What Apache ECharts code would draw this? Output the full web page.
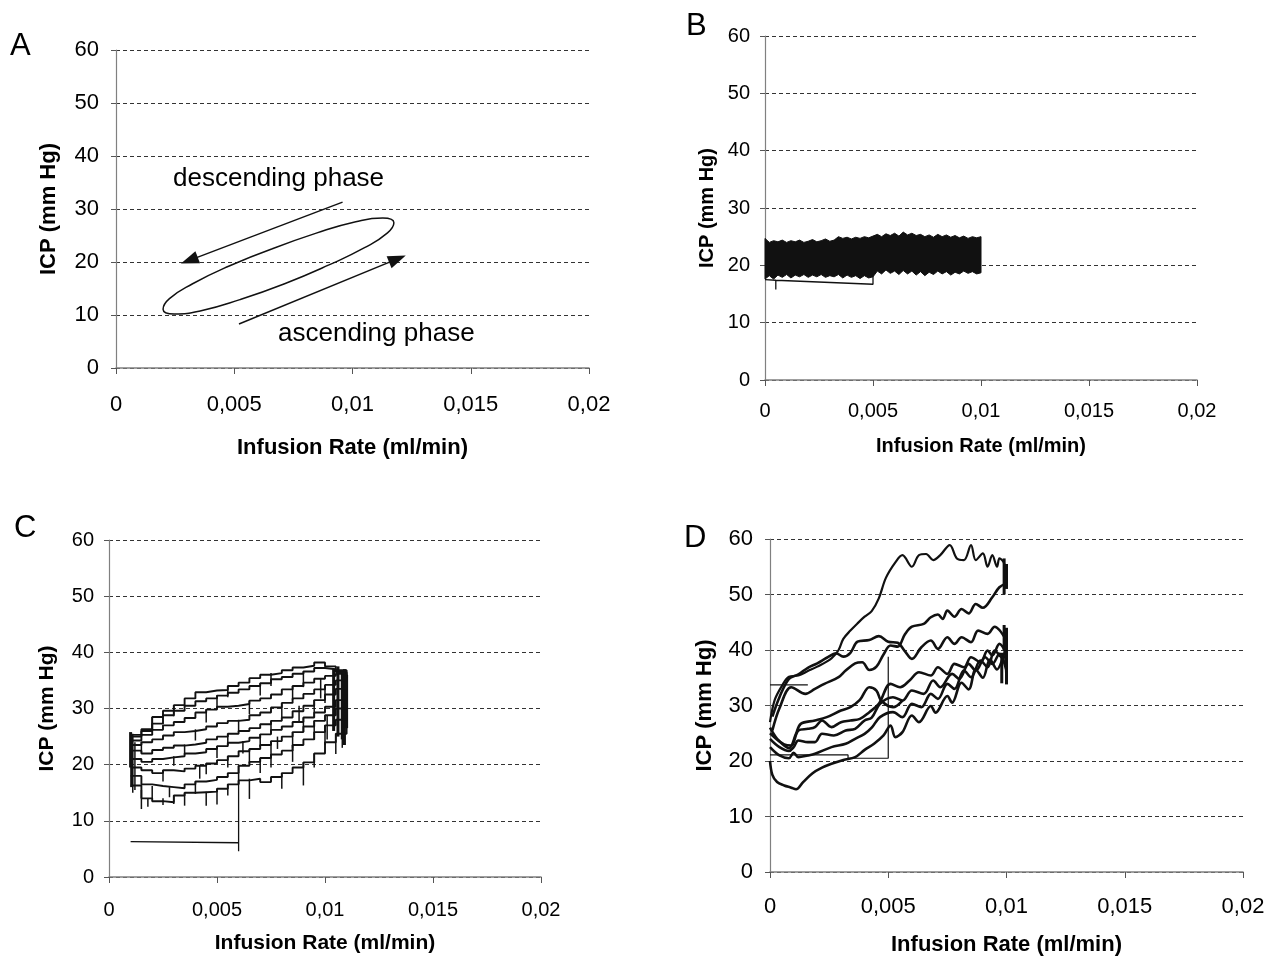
<!DOCTYPE html>
<html>
<head>
<meta charset="utf-8">
<script src="https://cdn.jsdelivr.net/npm/echarts/dist/echarts.min.js"></script>
<style>
  html, body { margin: 0; padding: 0; background: #fff; }
  #chart-container { width: 1277px; height: 961px; }
</style>
</head>
<body>
<div id="chart-container"></div>
<script>
// tick labels (comma decimals as in the original figure)
var xTickLabels = ["0", "0,005", "0,01", "0,015", "0,02"];
var yTickLabels = ["0", "10", "20", "30", "40", "50", "60"];

// ---- panel A: schematic hysteresis loop ----
var aLoop = [
  [0.00661, 22.5], [0.00476, 19.2], [0.00324, 15.9], [0.00226, 13.1], [0.00199, 11.1],
  [0.00246, 10.2], [0.0036, 10.8], [0.00524, 12.9], [0.00713, 15.9], [0.00898, 19.4],
  [0.01051, 22.7], [0.01148, 25.5], [0.01175, 27.4], [0.01128, 28.3], [0.01014, 27.6],
  [0.0085, 25.5], [0.00661, 22.5]
];
var aArrowDown = [[0.00958, 31.3], [0.0031, 20.3]];
var aArrowUp = [[0.0052, 8.3], [0.0119, 20.6]];

// ---- panel B: dense ICP trace, upper and lower envelope ----
var bTop = [
  [0, 24.7], [0.0002, 24.0], [0.0004, 24.3], [0.0006, 24.1], [0.0008, 24.4], [0.001, 24.0],
  [0.0012, 24.3], [0.0014, 24.1], [0.0016, 24.4], [0.0018, 24.0], [0.002, 24.2], [0.0022, 24.5],
  [0.0024, 24.1], [0.0026, 24.3], [0.0028, 24.6], [0.003, 24.2], [0.0032, 24.4], [0.0034, 25.0],
  [0.0036, 24.7], [0.0038, 24.9], [0.004, 24.6], [0.0042, 24.9], [0.0044, 24.7], [0.0046, 25.0],
  [0.0048, 24.8], [0.005, 25.1], [0.0052, 25.4], [0.0054, 25.0], [0.0056, 25.5], [0.0058, 25.2],
  [0.006, 25.6], [0.0062, 25.1], [0.0064, 25.8], [0.0066, 25.3], [0.0068, 25.6], [0.007, 25.2],
  [0.0072, 25.4], [0.0074, 25.0], [0.0076, 25.3], [0.0078, 24.9], [0.008, 25.4], [0.0082, 25.0],
  [0.0084, 25.3], [0.0086, 24.9], [0.0088, 25.2], [0.009, 24.8], [0.0092, 25.1], [0.0094, 24.7],
  [0.0096, 25.0], [0.0098, 24.8], [0.01, 25.0]
];
var bBottom = [
  [0, 17.6], [0.0002, 18.2], [0.0004, 17.6], [0.0006, 18.3], [0.0008, 17.9], [0.001, 18.4],
  [0.0012, 17.8], [0.0014, 18.3], [0.0016, 18.0], [0.0018, 18.4], [0.002, 17.9], [0.0022, 18.3],
  [0.0024, 18.0], [0.0026, 18.4], [0.0028, 17.9], [0.003, 18.2], [0.0032, 18.0], [0.0034, 18.4],
  [0.0036, 17.8], [0.0038, 18.3], [0.004, 17.9], [0.0042, 18.2], [0.0044, 17.7], [0.0046, 18.2],
  [0.0048, 17.8], [0.005, 18.0], [0.0052, 19.0], [0.0054, 18.5], [0.0056, 19.2], [0.0058, 18.6],
  [0.006, 19.0], [0.0062, 18.4], [0.0064, 19.1], [0.0066, 18.5], [0.0068, 19.0], [0.007, 18.3],
  [0.0072, 18.9], [0.0074, 18.2], [0.0076, 18.8], [0.0078, 18.4], [0.008, 19.0], [0.0082, 18.5],
  [0.0084, 18.9], [0.0086, 18.3], [0.0088, 18.8], [0.009, 18.5], [0.0092, 19.0], [0.0094, 18.6],
  [0.0096, 18.9], [0.0098, 18.5], [0.01, 18.7]
];
var bStart = [[0, 17.5], [0.0005, 17.4], [0.0005, 15.8], [0.0005, 17.4], [0.005, 16.7], [0.005, 18.4]];

// ---- panel C: stepped loops (y values at the infusion steps) ----
var cX = [0.001, 0.0015, 0.002, 0.0025, 0.003, 0.0035, 0.004, 0.0045, 0.005, 0.0055, 0.006,
  0.0065, 0.007, 0.0075, 0.008, 0.0085, 0.009, 0.0095, 0.01, 0.0105, 0.011];
var cLoops = [
  [16.3, 14.0, 13.5, 13.3, 14.5, 15.0, 15.1, 15.2, 15.7, 16.5, 17.2, 17.5, 16.9, 17.8, 18.5, 19.5, 20.4, 22.0, 24.0, 25.5, 26.9],
  [18.0, 16.5, 16.2, 16.0, 15.8, 16.5, 17.0, 17.3, 17.8, 18.5, 19.8, 20.5, 21.2, 21.8, 22.5, 23.5, 24.5, 25.8, 27.0, 28.0, 29.0],
  [19.5, 19.0, 18.5, 19.0, 18.8, 19.3, 19.8, 20.2, 20.8, 21.5, 22.4, 22.8, 23.5, 24.2, 25.0, 25.8, 26.8, 27.8, 28.8, 30.0, 31.0],
  [21.0, 20.5, 21.0, 21.3, 21.5, 22.0, 22.2, 22.8, 23.3, 23.9, 24.2, 24.8, 25.4, 26.2, 26.8, 27.6, 28.4, 29.3, 30.3, 31.5, 32.5],
  [22.5, 22.0, 22.6, 23.0, 23.4, 23.6, 23.9, 24.5, 25.0, 25.5, 26.0, 26.5, 27.2, 27.8, 28.4, 29.5, 30.5, 31.5, 32.5, 33.5, 34.0],
  [23.5, 24.0, 24.5, 25.2, 25.8, 26.0, 26.3, 26.8, 27.4, 27.8, 28.0, 28.8, 29.3, 30.2, 31.0, 31.8, 32.6, 33.4, 34.2, 35.0, 35.5],
  [24.3, 25.3, 26.2, 27.0, 27.6, 28.3, 29.3, 29.8, 30.3, 30.5, 30.8, 31.4, 31.8, 32.5, 33.4, 34.0, 34.6, 35.3, 35.8, 36.2, 36.0],
  [25.0, 26.0, 27.3, 28.8, 29.6, 30.5, 31.3, 31.8, 32.3, 32.8, 33.4, 34.0, 34.5, 35.2, 35.6, 36.2, 36.6, 37.2, 37.0, 36.5, 35.5],
  [25.3, 26.3, 28.5, 29.6, 30.6, 31.8, 32.9, 33.2, 33.3, 34.0, 34.6, 35.4, 36.0, 36.3, 36.8, 37.3, 37.6, 38.2, 37.5, 36.8, 35.8]
];
// downward spikes at the steps: [x, from, to]
var cSpikes = [
  [0.0015, 15.5, 12.1], [0.0025, 14.0, 12.8], [0.003, 14.5, 13.0], [0.0035, 15.0, 12.7],
  [0.0045, 15.2, 12.7], [0.005, 15.7, 12.9], [0.0055, 16.5, 14.5], [0.0065, 17.5, 13.9],
  [0.008, 18.5, 15.7], [0.009, 20.4, 16.3], [0.0095, 22.0, 19.5], [0.0105, 25.5, 21.9],
  [0.0108, 26.5, 23.0], [0.002, 16.2, 14.0], [0.004, 17.0, 14.8], [0.006, 19.8, 16.5],
  [0.007, 21.2, 18.5], [0.0075, 21.8, 19.5], [0.0085, 23.5, 20.5], [0.01, 27.0, 23.5],
  [0.0025, 19.0, 17.0], [0.0045, 20.2, 18.3], [0.0055, 21.5, 19.5], [0.0065, 22.8, 20.2],
  [0.0075, 24.2, 21.5], [0.0085, 25.8, 23.0], [0.0095, 27.8, 24.5], [0.003, 21.5, 19.8],
  [0.005, 23.3, 21.2], [0.007, 25.4, 23.2], [0.009, 28.4, 25.8], [0.0035, 23.6, 21.8],
  [0.0055, 25.5, 23.5], [0.0075, 27.8, 25.5], [0.0095, 31.5, 28.5], [0.004, 26.3, 24.3],
  [0.006, 28.0, 25.8], [0.008, 31.0, 28.5], [0.01, 34.2, 31.0], [0.0045, 29.8, 27.5],
  [0.0065, 31.4, 29.0], [0.0085, 34.0, 31.5], [0.005, 32.3, 30.0], [0.007, 34.5, 32.3],
  [0.009, 36.6, 33.8], [0.0055, 34.0, 32.0], [0.0075, 36.3, 34.0], [0.002, 28.5, 26.5],
  [0.003, 30.6, 28.6], [0.0015, 24.0, 22.2], [0.0011, 25.5, 15.0], [0.0012, 24.0, 15.5],
  [0.0018, 14.0, 12.5], [0.0028, 16.0, 14.2], [0.0042, 19.8, 17.5], [0.0062, 24.2, 22.0],
  [0.0078, 25.0, 22.8], [0.0088, 30.5, 27.6], [0.0098, 35.3, 31.8], [0.0101, 28.8, 24.5]
];
// dense vertical traces at both ends of the loops
var cEdges = [
  [0.001, 25.8, 19.5], [0.00105, 25.0, 16.0], [0.0104, 37.0, 26.0], [0.0106, 37.5, 25.0],
  [0.0108, 36.5, 24.5], [0.0109, 37.0, 23.5], [0.011, 36.0, 26.5]
];
var cStart = [[0.001, 6.3], [0.006, 6.1], [0.006, 4.6], [0.006, 17.2]];

// ---- panel D: wavy loops ----
var dLoopTop = [
  [0, 27], [0.0002, 31], [0.0005, 33.5], [0.0008, 35.2], [0.0012, 35.4], [0.0016, 36.2],
  [0.002, 37], [0.0026, 38.5], [0.0029, 40], [0.0031, 42], [0.0034, 43.5], [0.0037, 44.8],
  [0.004, 46], [0.0043, 47], [0.0046, 49.3], [0.0049, 53], [0.0053, 55.8], [0.0056, 57.1],
  [0.006, 55.0], [0.0063, 57.1], [0.0066, 57.3], [0.0069, 56.2], [0.0072, 57.1], [0.0076, 58.9],
  [0.0079, 56.5], [0.0082, 56.2], [0.0085, 58.9], [0.0087, 56.2], [0.009, 57.4], [0.0092, 55.0],
  [0.0094, 57.1], [0.0096, 55.0], [0.0097, 56.5], [0.0099, 55.6], [0.01, 51.5]
];
var dLoopUpper = [
  [0.0001, 25.5], [0.0004, 29.5], [0.0009, 33.3], [0.0015, 32.1], [0.0019, 33.0], [0.0023, 33.9],
  [0.0029, 35.1], [0.0032, 36.3], [0.0036, 37.6], [0.0039, 37.8], [0.0042, 36.4], [0.0045, 37.0],
  [0.0048, 39.2], [0.0051, 40.8], [0.0054, 40.6], [0.0057, 42.8], [0.006, 44.2], [0.0065, 44.7],
  [0.0068, 45.9], [0.0071, 46.4], [0.0073, 45.6], [0.0075, 47.1], [0.0078, 46.0], [0.0081, 47.4],
  [0.0084, 46.6], [0.0087, 48.3], [0.009, 47.6], [0.0094, 49.5], [0.0097, 51.3], [0.01, 52.0]
];
var dLoopMid = [
  [0.0001, 28], [0.0004, 31.5], [0.0008, 34.8], [0.0012, 35.6], [0.0016, 36.8], [0.002, 37.6],
  [0.0024, 38.6], [0.0028, 39.4], [0.0031, 38.8], [0.0034, 39.5], [0.0037, 41.5], [0.0042, 41.8],
  [0.0046, 42.5], [0.005, 41.5], [0.0054, 41.3], [0.0057, 39.8], [0.006, 38.4], [0.0064, 40.5],
  [0.0068, 41.7], [0.0071, 40.2], [0.0075, 42.3], [0.0078, 41.1], [0.0081, 42.3], [0.0085, 41.4],
  [0.0088, 43.5], [0.0092, 42.9], [0.0095, 44.2], [0.0097, 43.6], [0.01, 41.7]
];
var dWaveA = [
  [0, 26], [0.0003, 24], [0.0006, 23], [0.0009, 22.8], [0.0012, 25.5], [0.0016, 25.8],
  [0.0019, 26.1], [0.0022, 27.3], [0.0026, 26.1], [0.003, 27], [0.0034, 27.3], [0.0038, 27.6],
  [0.0042, 28.8], [0.0046, 30.3], [0.0051, 33.9], [0.0055, 33.3], [0.0059, 34.5], [0.0063, 36.0],
  [0.0068, 35.4], [0.0071, 36.9], [0.0075, 35.7], [0.0078, 37.5], [0.0082, 36.9], [0.0085, 38.7],
  [0.0089, 37.8], [0.0092, 39.9], [0.0094, 39.0], [0.0097, 41.1], [0.01, 39.3]
];
var dWaveB = [
  [0, 24], [0.0004, 22.5], [0.0008, 21.8], [0.001, 22.5], [0.0012, 23.7], [0.0016, 23.4],
  [0.0019, 23.4], [0.0022, 24.9], [0.0027, 24.6], [0.0032, 25.5], [0.0036, 25.8], [0.004, 27.3],
  [0.0043, 27.8], [0.00465, 30.3], [0.0052, 31.5], [0.0056, 30.9], [0.006, 32.7], [0.0065, 32.1],
  [0.0069, 34.5], [0.0072, 33.3], [0.0077, 35.7], [0.008, 34.8], [0.0084, 37.5], [0.0087, 36.3],
  [0.0091, 38.7], [0.0094, 37.5], [0.0097, 39.3], [0.01, 36.3]
];
var dWaveC = [
  [0, 22.5], [0.0004, 21], [0.0008, 20.5], [0.001, 21.5], [0.0012, 20.7], [0.0016, 21.0],
  [0.0019, 21.3], [0.0026, 22.5], [0.0032, 23.1], [0.0036, 24.0], [0.004, 24.9], [0.0043, 26.0],
  [0.00465, 27.9], [0.0052, 28.8], [0.0056, 27.9], [0.006, 30.3], [0.0064, 29.7], [0.0068, 32.1],
  [0.0071, 31.2], [0.0075, 33.9], [0.0078, 33.0], [0.0082, 36.3], [0.0085, 35.1], [0.0089, 38.1],
  [0.0092, 36.9], [0.0095, 39.9], [0.0098, 38.7], [0.01, 41.1]
];
var dWaveD = [
  [0, 25], [0.0004, 23.5], [0.0008, 22.3], [0.0011, 24.9], [0.0013, 26.7], [0.0019, 27.3],
  [0.0024, 27.9], [0.003, 29.1], [0.0034, 29.7], [0.0038, 31], [0.0042, 33.3], [0.0045, 32.7],
  [0.0047, 30.9], [0.0052, 29.7], [0.0056, 30.9]
];
var dWaveLow = [
  [0, 20], [0.0001, 17.5], [0.0003, 16.2], [0.0006, 15.6], [0.0009, 15.2], [0.0011, 14.9],
  [0.0014, 16.2], [0.0018, 17.8], [0.0022, 18.8], [0.0026, 19.5], [0.0031, 20.2], [0.0036, 20.7],
  [0.004, 22], [0.0044, 23.1], [0.0048, 24.6], [0.0051, 26.4], [0.0053, 24.3], [0.0056, 25.2],
  [0.006, 28.2], [0.0063, 27.0], [0.0068, 29.9], [0.007, 28.7], [0.0075, 31.7], [0.0077, 30.5],
  [0.0081, 34.1], [0.0084, 32.9], [0.0087, 36.5], [0.009, 35.0], [0.0093, 38.3], [0.0096, 36.5],
  [0.0099, 38.9], [0.01, 34.5]
];
var dEdges = [
  [0.0099, 44.5, 40], [0.01, 44, 39.5], [0.0098, 39.5, 34], [0.01, 40, 33.8],
  [0.0099, 56.5, 50], [0.01, 55.5, 51]
];
var dBoxTop = [[0, 33.7], [0.0016, 33.7]];
var dBoxBottom = [[0, 21.1], [0.0033, 21.1], [0.0033, 20.5], [0.005, 20.5], [0.005, 38.8]];

var INK = "#111";
var FONT = "Liberation Sans, Arial, sans-serif";

var dom = document.getElementById("chart-container");
var myChart = echarts.init(dom, null, { renderer: "canvas" });

// grid boxes: [left, top, width, height] and text sizes for each panel
var panels = [
  { box: [116, 50, 473, 318], tick: 22, title: 22, xMargin: 26, yMargin: 17, xGap: 69, yGap: 56 },
  { box: [765, 36, 432, 344], tick: 20, title: 20, xMargin: 21, yMargin: 15, xGap: 56, yGap: 48 },
  { box: [109, 540, 432, 337], tick: 20, title: 21, xMargin: 23, yMargin: 15, xGap: 56, yGap: 51 },
  { box: [770, 539, 473, 333], tick: 22, title: 22, xMargin: 24, yMargin: 17, xGap: 62, yGap: 54 }
];

var grids = [], xAxes = [], yAxes = [];
panels.forEach(function (p, i) {
  grids.push({ left: p.box[0], top: p.box[1], width: p.box[2], height: p.box[3] });
  xAxes.push({
    gridIndex: i,
    type: "value",
    min: 0,
    max: 0.02,
    interval: 0.005,
    name: "Infusion Rate (ml/min)",
    nameLocation: "middle",
    nameGap: p.xGap,
    nameTextStyle: { fontFamily: FONT, fontWeight: "bold", fontSize: p.title, color: "#000" },
    axisLine: { show: true, lineStyle: { color: "#808080", width: 1.5 } },
    axisTick: { show: true, length: 6, lineStyle: { color: "#555" } },
    axisLabel: {
      margin: p.xMargin,
      fontFamily: FONT,
      fontSize: p.tick,
      color: "#000",
      formatter: function (v) { return xTickLabels[Math.round(v / 0.005)]; }
    },
    splitLine: { show: false }
  });
  yAxes.push({
    gridIndex: i,
    type: "value",
    min: 0,
    max: 60,
    interval: 10,
    name: "ICP (mm Hg)",
    nameLocation: "middle",
    nameRotate: 90,
    nameGap: p.yGap,
    nameTextStyle: { fontFamily: FONT, fontWeight: "bold", fontSize: p.title, color: "#000" },
    axisLine: { show: true, lineStyle: { color: "#808080", width: 1.2 } },
    axisTick: { show: true, length: 5, lineStyle: { color: "#555" } },
    axisLabel: {
      margin: p.yMargin,
      fontFamily: FONT,
      fontSize: p.tick,
      color: "#000",
      formatter: function (v) { return yTickLabels[Math.round(v / 10)]; }
    },
    splitLine: { show: true, lineStyle: { color: "#333", width: 1, type: [4, 3] } }
  });
});

function trace(idx, data, width, opts) {
  var s = {
    type: "line",
    xAxisIndex: idx,
    yAxisIndex: idx,
    data: data,
    showSymbol: false,
    symbol: "none",
    silent: true,
    lineStyle: { color: INK, width: width }
  };
  for (var k in opts) s[k] = opts[k];
  return s;
}

function ticks(idx, data, width) {
  return {
    type: "custom",
    xAxisIndex: idx,
    yAxisIndex: idx,
    data: data,
    silent: true,
    encode: { x: 0, y: [1, 2] },
    renderItem: function (params, api) {
      var a = api.coord([api.value(0), api.value(1)]);
      var b = api.coord([api.value(0), api.value(2)]);
      return {
        type: "line",
        shape: { x1: a[0], y1: a[1], x2: b[0], y2: b[1] },
        style: { stroke: INK, lineWidth: width }
      };
    }
  };
}

var series = [];

// A
series.push(trace(0, aLoop, 1.5, {
  smooth: 0.5,
  markLine: {
    silent: true,
    symbol: ["none", "triangle"],
    symbolSize: [13, 18],
    label: { show: false },
    lineStyle: { color: INK, width: 1.5, type: "solid" },
    data: [
      [{ coord: aArrowDown[0] }, { coord: aArrowDown[1] }],
      [{ coord: aArrowUp[0] }, { coord: aArrowUp[1] }]
    ]
  }
}));

// B
series.push({
  type: "custom",
  xAxisIndex: 1,
  yAxisIndex: 1,
  data: [[0, 0]],
  silent: true,
  renderItem: function (params, api) {
    var pts = bTop.map(function (p) { return api.coord(p); })
      .concat(bBottom.slice().reverse().map(function (p) { return api.coord(p); }));
    return {
      type: "polygon",
      shape: { points: pts },
      style: { fill: INK, stroke: INK, lineWidth: 1 }
    };
  }
});
series.push(trace(1, bStart, 1.3, {}));

// C
cLoops.forEach(function (ys) {
  series.push(trace(2, cX.map(function (x, j) { return [x, ys[j]]; }), 1.9, { step: "end" }));
});
series.push(ticks(2, cSpikes, 1.5));
series.push(ticks(2, cEdges, 3));
series.push(trace(2, cStart, 1.3, {}));

// D
[dLoopTop, dLoopUpper, dLoopMid, dWaveA, dWaveB, dWaveC, dWaveD, dWaveLow].forEach(function (d, j) {
  series.push(trace(3, d, j === 0 ? 2.2 : 2.6, { smooth: 0.35 }));
});
series.push(ticks(3, dEdges, 3));
series.push(trace(3, dBoxTop, 1.2, {}));
series.push(trace(3, dBoxBottom, 1.2, {}));

function label(text, left, top, size) {
  return {
    type: "text",
    left: left,
    top: top,
    silent: true,
    style: { text: text, fontFamily: FONT, fontSize: size, fill: "#000" }
  };
}

var option = {
  animation: false,
  backgroundColor: "#fff",
  textStyle: { fontFamily: FONT },
  grid: grids,
  xAxis: xAxes,
  yAxis: yAxes,
  series: series,
  graphic: [
    label("A", 10, 31, 31),
    label("B", 686, 11, 31),
    label("C", 14, 513, 31),
    label("D", 684, 523, 31),
    label("descending phase", 173, 166, 26),
    label("ascending phase", 278, 321, 26)
  ]
};

myChart.setOption(option);
window.addEventListener("resize", myChart.resize);
</script>
</body>
</html>
